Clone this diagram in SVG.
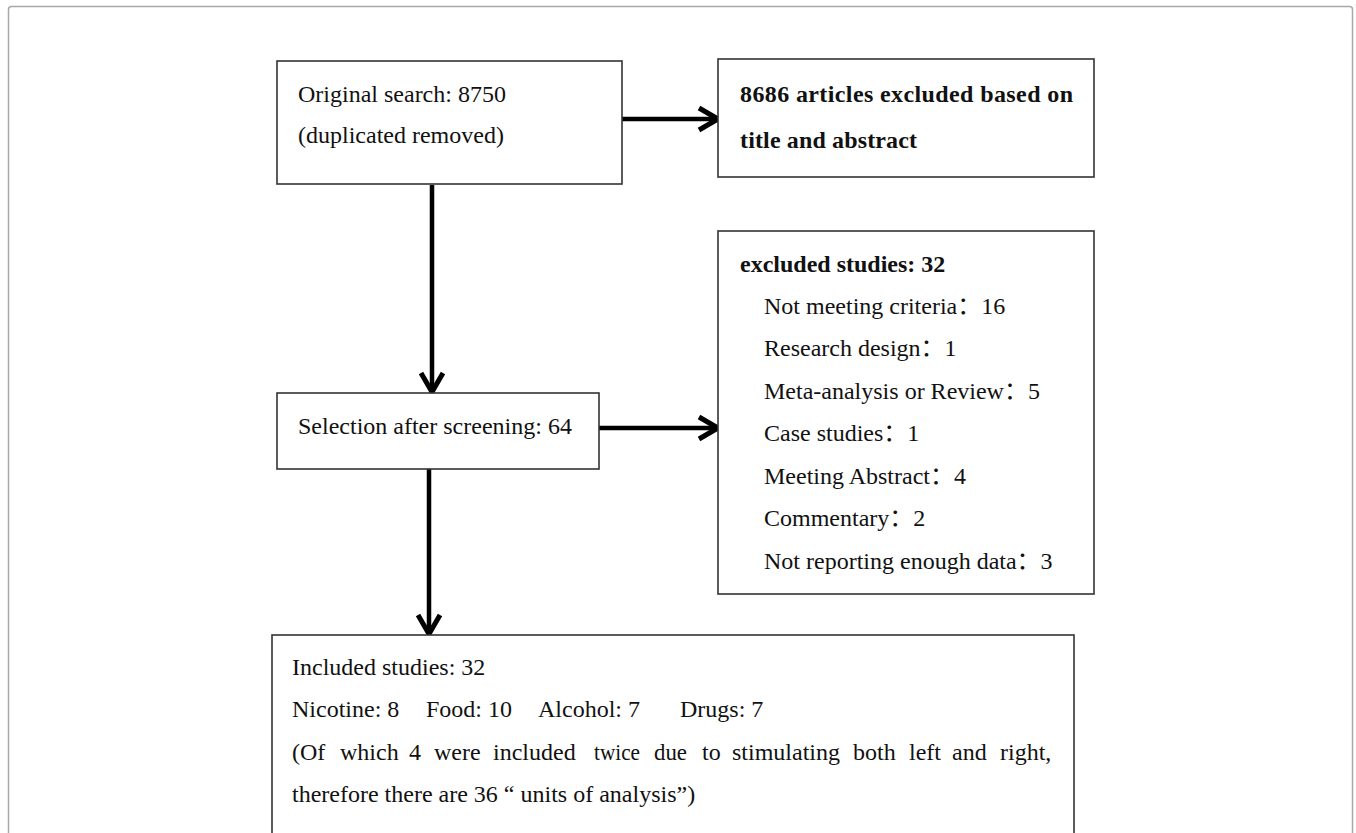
<svg xmlns="http://www.w3.org/2000/svg" width="1356" height="833" viewBox="0 0 1356 833">
<style>
.box{fill:#fff;stroke:#333;stroke-width:1.6}
.t{font-family:"Liberation Serif","Noto Sans CJK SC",serif;font-size:24px;fill:#111}
.b{font-weight:bold}
.conn{stroke:#000;stroke-width:4.5;fill:none}
</style>
<defs>
<marker id="arr" markerUnits="userSpaceOnUse" viewBox="-28 -16 32 32" markerWidth="32" markerHeight="32" refX="-2" refY="0" orient="auto" overflow="visible">
<path d="M -19 -11 L 0 0 L -19 11" fill="none" stroke="#000" stroke-width="5" stroke-linejoin="miter"/>
</marker>
</defs>
<rect x="8.5" y="6.5" width="1344" height="900" rx="3" fill="#fff" stroke="#a8a8a8" stroke-width="1.5"/>

<g id="connectors">
<line class="conn" x1="622" y1="119" x2="716" y2="119" marker-end="url(#arr)"/>
<line class="conn" x1="432" y1="185" x2="432" y2="390" marker-end="url(#arr)"/>
<line class="conn" x1="599" y1="428" x2="716" y2="428" marker-end="url(#arr)"/>
<line class="conn" x1="429" y1="469" x2="429" y2="632" marker-end="url(#arr)"/>
</g>

<g id="n-original">
<rect class="box" x="277" y="61" width="345" height="123"/>
<text class="t" x="298" y="102">Original search: 8750</text>
<text class="t" x="298" y="143">(duplicated removed)</text>
</g>

<g id="n-excluded-title">
<rect class="box" x="718" y="59" width="376" height="118"/>
<text class="t b" x="740" y="102" textLength="333" lengthAdjust="spacing">8686 articles excluded based on</text>
<text class="t b" x="740" y="148" textLength="177" lengthAdjust="spacing">title and abstract</text>
</g>

<g id="n-excluded-studies">
<rect class="box" x="718" y="231" width="376" height="363"/>
<text class="t b" x="740" y="272">excluded studies: 32</text>
<text class="t" x="764" y="314">Not meeting criteria：16</text>
<text class="t" x="764" y="356">Research design：1</text>
<text class="t" x="764" y="399">Meta-analysis or Review：5</text>
<text class="t" x="764" y="441">Case studies：1</text>
<text class="t" x="764" y="484">Meeting Abstract：4</text>
<text class="t" x="764" y="526">Commentary：2</text>
<text class="t" x="764" y="569">Not reporting enough data：3</text>
</g>

<g id="n-selection">
<rect class="box" x="277" y="393" width="322" height="76"/>
<text class="t" x="298" y="434">Selection after screening: 64</text>
</g>

<g id="n-included">
<rect class="box" x="272" y="635" width="802" height="200"/>
<text class="t" x="292" y="675">Included studies: 32</text>
<text class="t" y="717"><tspan x="292">Nicotine: 8</tspan><tspan x="426">Food: 10</tspan><tspan x="538">Alcohol: 7</tspan><tspan x="680">Drugs: 7</tspan></text>
<text class="t" y="760"><tspan x="292">(Of</tspan><tspan x="340">which</tspan><tspan x="409">4</tspan><tspan x="434">were</tspan><tspan x="493">included</tspan><tspan x="594" textLength="46" lengthAdjust="spacingAndGlyphs">twice</tspan><tspan x="654" textLength="33" lengthAdjust="spacingAndGlyphs">due</tspan><tspan x="702">to</tspan><tspan x="732">stimulating</tspan><tspan x="853">both</tspan><tspan x="909">left</tspan><tspan x="952">and</tspan><tspan x="1000">right,</tspan></text>
<text class="t" x="292" y="802">therefore there are 36 “ units of analysis”)</text>
</g>
</svg>
